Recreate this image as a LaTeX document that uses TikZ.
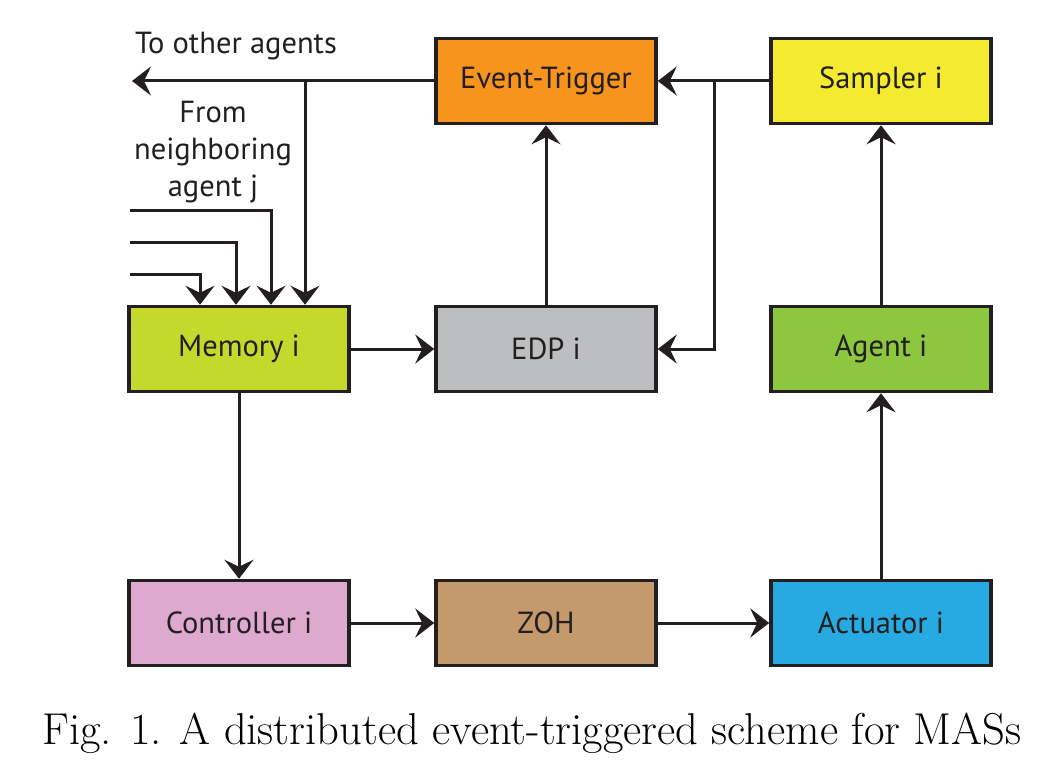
\documentclass[tikz,border=0pt]{standalone}
\usepackage{fontspec}
\newfontfamily\labfont{PT Sans}
\usetikzlibrary{arrows.meta}
\definecolor{linec}{HTML}{231F20}
\definecolor{cET}{HTML}{F7941D}
\definecolor{cSa}{HTML}{F4EB31}
\definecolor{cMe}{HTML}{C5D92D}
\definecolor{cEDP}{HTML}{BCBEC0}
\definecolor{cAg}{HTML}{8DC63F}
\definecolor{cCo}{HTML}{DEA9CE}
\definecolor{cZO}{HTML}{C4996C}
\definecolor{cAc}{HTML}{27AAE1}
\begin{document}
\begin{tikzpicture}[x=1pt,y=-1pt,
  box/.style={draw=linec, line width=3.5pt, minimum width=220pt, minimum height=85pt, inner sep=0pt, font=\labfont\fontsize{30.5}{34}\selectfont, text=linec},
  lab/.style={font=\labfont\fontsize{30.5}{37}\selectfont, text=linec, inner sep=0pt},
  arr/.style={draw=linec, line width=3pt, -{Stealth[length=19pt,width=29pt,inset=7pt]}},
  ln/.style={draw=linec, line width=3pt}]
\useasboundingbox (0,0) rectangle (1063,776);
\node[box,fill=cET] (et) at (546,81) {Event-Trigger};
\node[box,fill=cSa] (sa) at (881,81) {Sampler i};
\node[box,fill=cMe] (me) at (239,349) {Memory i};
\node[box,fill=cEDP] (edp) at (546,349) {EDP i};
\node[box,fill=cAg] (ag) at (881,349) {Agent i};
\node[box,fill=cCo] (co) at (239,623) {Controller i};
\node[box,fill=cZO] (zo) at (546,623) {ZOH};
\node[box,fill=cAc] (ac) at (881,623) {Actuator i};
% labels
\node[lab] (tooth) at (236,46) {To other agents};
\node[lab, align=center] (from) at (213,152) {From\\neighboring\\agent j};
% top-left connectors
\coordinate (toother) at (132,81);
\coordinate (jl) at (305,81);
\draw[arr] (et.west) -- (toother);
\draw[arr] (jl) -- ([xshift=66pt]me.north);
\coordinate (in1) at (130,210);
\coordinate (in2) at (130,242);
\coordinate (in3) at (130,274);
\draw[arr] (in1) -| ([xshift=32pt]me.north);
\draw[arr] (in2) -| ([xshift=-3pt]me.north);
\draw[arr] (in3) -| ([xshift=-39pt]me.north);
% right connectors
\coordinate (jr) at (714,81);
\draw[arr] (sa.west) -- (et.east);
\draw[arr] (jr) |- (edp.east);
\draw[arr] (edp.north) -- (et.south);
\draw[arr] (ag.north) -- (sa.south);
\draw[arr] (ac.north) -- (ag.south);
\draw[arr] (me.east) -- (edp.west);
\draw[arr] (me.south) -- (co.north);
\draw[arr] (co.east) -- (zo.west);
\draw[arr] (zo.east) -- (ac.west);
% caption
\node[inner sep=0pt] (cap) at (532,733) {\fontsize{44.6}{48}\selectfont Fig. 1. A distributed event-triggered scheme for MASs};
\end{tikzpicture}
\end{document}
